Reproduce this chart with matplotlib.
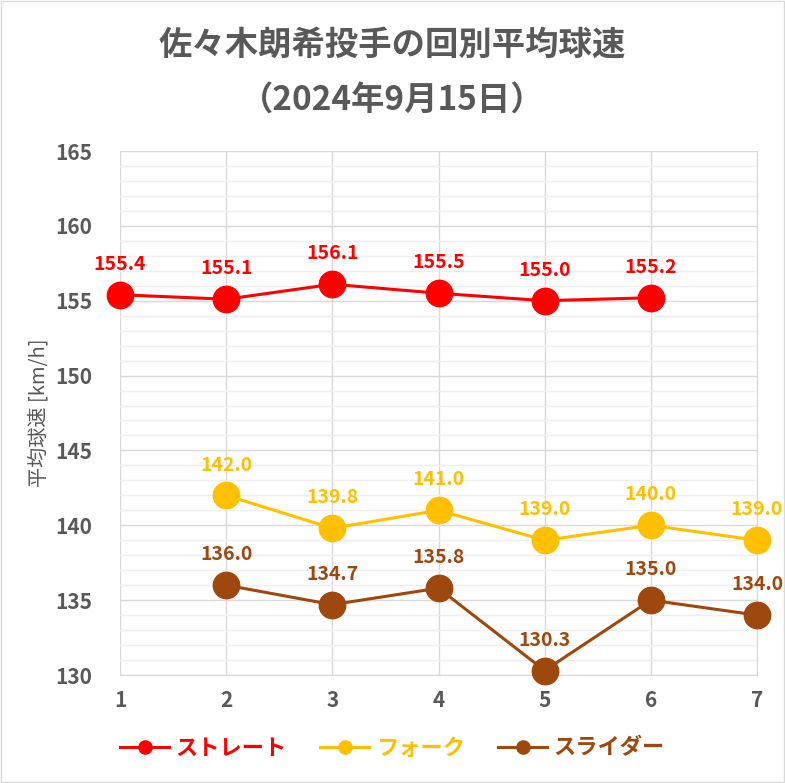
import numpy as np
import matplotlib
matplotlib.use("Agg")
from matplotlib import pyplot as plt
from matplotlib.patches import Rectangle
from matplotlib.ticker import MultipleLocator

plt.rcParams['font.family'] = ['Noto Sans CJK JP', 'DejaVu Sans']

innings = [1, 2, 3, 4, 5, 6, 7]
straight = [155.4, 155.1, 156.1, 155.5, 155.0, 155.2, None]
fork = [None, 142.0, 139.8, 141.0, 139.0, 140.0, 139.0]
slider = [None, 136.0, 134.7, 135.8, 130.3, 135.0, 134.0]

series = [
    ('ストレート', straight, '#FF0000'),
    ('フォーク', fork, '#FFC000'),
    ('スライダー', slider, '#9E480E'),
]
gray = '#595959'

fig = plt.figure(figsize=(7.85, 7.83), dpi=100)
ax = fig.add_axes([120 / 785, 1 - 675 / 783, 637 / 785, 524 / 783])

handles = []
for name, vals, col in series:
    xs = [x for x, v in zip(innings, vals) if v is not None]
    ys = [v for v in vals if v is not None]
    h, = ax.plot(xs, ys, color=col, lw=2.2, marker='o', markersize=19,
                 label=name, zorder=3, clip_on=False)
    handles.append(h)
    for x, y in zip(xs, ys):
        ax.annotate(f'{y:.1f}', (x, y), xytext=(0, 15), textcoords='offset points',
                    ha='center', va='bottom', color=col, fontsize=14,
                    fontweight='bold')

ax.set_xlim(1, 7)
ax.set_ylim(130, 165)
ax.set_xticks(innings)
ax.yaxis.set_major_locator(MultipleLocator(5))
ax.yaxis.set_minor_locator(MultipleLocator(1))
ax.grid(which='major', color='#D9D9D9', lw=1)
ax.grid(which='minor', axis='y', color='#EFEFEF', lw=1)
ax.set_axisbelow(True)
for s in ['top', 'left']:
    ax.spines[s].set_visible(False)
for s in ['right', 'bottom']:
    ax.spines[s].set_color('#D9D9D9')
ax.tick_params(which='both', length=0)
ax.tick_params(axis='x', pad=11)
ax.tick_params(axis='y', pad=20)
for lab in ax.get_xticklabels() + ax.get_yticklabels():
    lab.set_fontweight('bold')
    lab.set_fontsize(15)
    lab.set_color(gray)
ax.set_ylabel('平均球速 [km/h]', color=gray, fontsize=14.5, labelpad=4)

fig.text(0.5, 1 - 45 / 783, '佐々木朗希投手の回別平均球速', ha='center', va='center',
         fontsize=24, fontweight='bold', color=gray)
fig.text(0.5, 1 - 101 / 783, '（2024年9月15日）', ha='center', va='center',
         fontsize=24, fontweight='bold', color=gray)

leg = fig.legend(handles=handles, loc='center', bbox_to_anchor=(0.5, 1 - 748 / 783),
                 ncol=3, frameon=False, markerscale=0.5,
                 handlelength=2.2, columnspacing=1.5, handletextpad=0.3,
                 prop={'weight': 'bold', 'size': 16})
for t, (_, _, col) in zip(leg.get_texts(), series):
    t.set_color(col)

fig.patches.append(Rectangle((1 / 785, 1 / 783), 1 - 2 / 785, 1 - 2 / 783,
                             transform=fig.transFigure, fill=False,
                             edgecolor='#D9D9D9', lw=1))

fig.savefig('out.png', dpi=100)
